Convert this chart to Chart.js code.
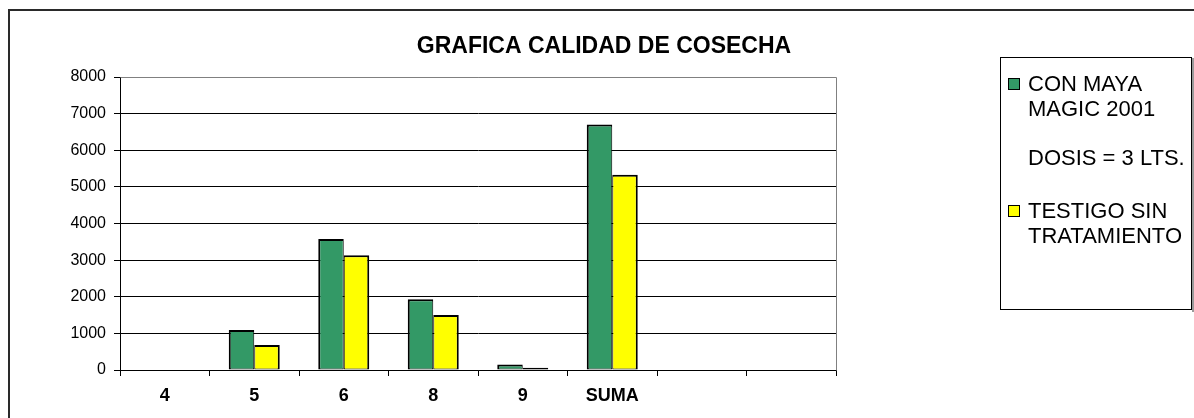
<!DOCTYPE html>
<html>
<head>
<meta charset="utf-8">
<script src="https://cdn.jsdelivr.net/npm/chart.js@4/dist/chart.umd.min.js"></script>
<style>
  html, body { margin: 0; padding: 0; background: #fff; }
  #wrap { position: relative; width: 1194px; height: 418px; }
  canvas { display: block; }
</style>
</head>
<body>
<div id="wrap"><canvas id="c" width="1194" height="418"></canvas></div>
<script>
// ---- data ----
const chartTitle = 'GRAFICA CALIDAD DE COSECHA';
const categories = ['4', '5', '6', '8', '9', 'SUMA', '', ''];
const conMaya = [0, 1090, 3580, 1930, 150, 6700, null, null];
const testigo = [0, 680, 3130, 1500, 60, 5330, null, null];
const seriesNames = ['CON MAYA MAGIC 2001 DOSIS = 3 LTS.', 'TESTIGO SIN TRATAMIENTO'];
const legendLines = [
  ['CON MAYA', 'MAGIC 2001', '', 'DOSIS = 3 LTS.'],
  ['TESTIGO SIN', 'TRATAMIENTO']
];
const yMin = 0, yMax = 8000, yStep = 1000;
const seriesColors = ['#339966', '#FFFF00'];

const FONT = '"Liberation Sans", Arial, Helvetica, sans-serif';

const decorPlugin = {
  id: 'decor',
  afterDraw(chart) {
    const ctx = chart.ctx;
    const ca = chart.chartArea;
    ctx.save();
    // outer frame
    ctx.strokeStyle = '#2a2a2a';
    ctx.lineWidth = 2;
    ctx.beginPath();
    ctx.moveTo(9, 430);
    ctx.lineTo(9, 10);
    ctx.lineTo(1200, 10);
    ctx.stroke();
    // plot area top/right border (gray)
    ctx.strokeStyle = '#808080';
    ctx.lineWidth = 1;
    ctx.beginPath();
    ctx.moveTo(Math.round(ca.left) + 0.5, Math.round(ca.top) + 0.5);
    ctx.lineTo(Math.round(ca.right) + 0.5, Math.round(ca.top) + 0.5);
    ctx.lineTo(Math.round(ca.right) + 0.5, Math.round(ca.bottom) + 0.5);
    ctx.stroke();
    // title
    ctx.fillStyle = '#000';
    ctx.font = 'bold 23px ' + FONT;
    ctx.textAlign = 'center';
    ctx.textBaseline = 'middle';
    ctx.fillText(chartTitle, 604, 47);
    // legend box
    ctx.fillStyle = '#fff';
    ctx.fillRect(1000, 57, 192, 253);
    ctx.strokeStyle = '#000';
    ctx.lineWidth = 1;
    ctx.strokeRect(1000.5, 57.5, 191, 252);
    ctx.strokeStyle = '#9a9a9a';
    ctx.lineWidth = 2;
    ctx.beginPath();
    ctx.moveTo(1193, 58);
    ctx.lineTo(1193, 312);
    ctx.stroke();
    // legend entries
    const starts = [84, 211];
    const lh = 24.7;
    ctx.font = '22px ' + FONT;
    ctx.textAlign = 'left';
    ctx.textBaseline = 'middle';
    chart.data.datasets.forEach((ds, i) => {
      const y0 = starts[i];
      ctx.fillStyle = ds.backgroundColor;
      ctx.fillRect(1008, y0 - 6, 12, 12);
      ctx.strokeStyle = '#000';
      ctx.lineWidth = 1;
      ctx.strokeRect(1008.5, y0 - 5.5, 11, 11);
      ctx.fillStyle = '#000';
      legendLines[i].forEach((t, k) => {
        if (t) ctx.fillText(t, 1028, y0 + k * lh + 1);
      });
    });
    ctx.restore();
  }
};

new Chart(document.getElementById('c'), {
  type: 'bar',
  data: {
    labels: categories,
    datasets: [
      {
        label: seriesNames[0],
        data: conMaya,
        backgroundColor: seriesColors[0],
        borderColor: '#000',
        borderWidth: { left: 2, top: 2, right: 1, bottom: 1 },
        borderSkipped: false,
        categoryPercentage: 0.57,
        barPercentage: 1.0
      },
      {
        label: seriesNames[1],
        data: testigo,
        backgroundColor: seriesColors[1],
        borderColor: '#000',
        borderWidth: { left: 1, top: 2, right: 2, bottom: 1 },
        borderSkipped: false,
        categoryPercentage: 0.57,
        barPercentage: 1.0
      }
    ]
  },
  options: {
    responsive: false,
    animation: false,
    devicePixelRatio: 1,
    layout: { padding: { left: 0, top: 77, right: 358, bottom: 0 } },
    plugins: {
      legend: { display: false },
      title: { display: false },
      tooltip: { enabled: false }
    },
    scales: {
      x: {
        grid: {
          offset: true,
          drawOnChartArea: false,
          drawTicks: true,
          tickLength: 6,
          tickColor: '#000'
        },
        border: { color: '#000', width: 1 },
        ticks: {
          color: '#000',
          padding: 9,
          maxRotation: 0,
          autoSkip: false,
          font: { family: FONT, size: 18, weight: 'bold' }
        },
        afterFit(scale) { scale.height = 48; }
      },
      y: {
        min: yMin,
        max: yMax,
        grid: {
          color: (c) => (c.tick && c.tick.value === yMax) ? '#808080' : '#000',
          tickColor: '#000',
          tickLength: 6,
          lineWidth: 1
        },
        border: { color: '#000', width: 1 },
        ticks: {
          stepSize: yStep,
          color: '#000',
          padding: 8,
          font: { family: FONT, size: 16 },
          callback: (v) => String(v)
        },
        afterFit(scale) { scale.width = 120; }
      }
    }
  },
  plugins: [decorPlugin]
});
</script>
</body>
</html>
